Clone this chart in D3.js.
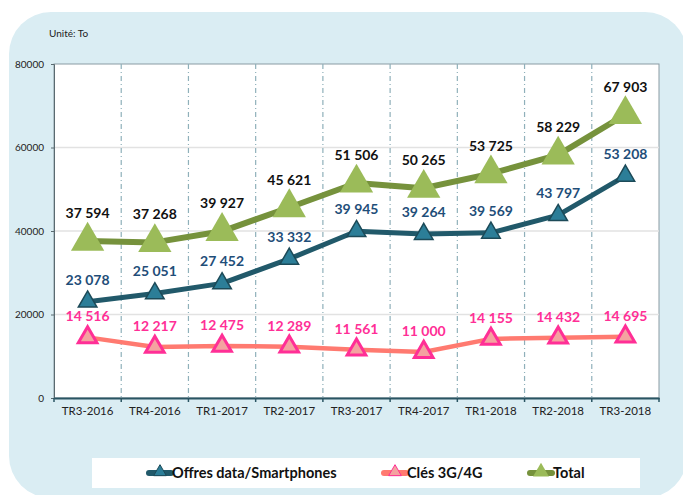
<!DOCTYPE html>
<html lang="fr">
<head>
<meta charset="UTF-8">
<title>Trafic data</title>
<style>
  body { margin: 0; background: #fff; }
  svg text { font-family: Lato, "Open Sans", sans-serif; }
</style>
</head>
<body>
<div id="chart"></div>
<script src="https://d3js.org/d3.v7.min.js"></script>
<script>
const categories = ["TR3-2016", "TR4-2016", "TR1-2017", "TR2-2017", "TR3-2017", "TR4-2017", "TR1-2018", "TR2-2018", "TR3-2018"];
const offres = [23078, 25051, 27452, 33332, 39945, 39264, 39569, 43797, 53208];
const cles = [14516, 12217, 12475, 12289, 11561, 11000, 14155, 14432, 14695];
const total = [37594, 37268, 39927, 45621, 51506, 50265, 53725, 58229, 67903];
const yTicks = [0, 20000, 40000, 60000, 80000];

const W = 683, H = 495;
const margin = { left: 54, right: 24, top: 64, bottom: 97 };

const svg = d3.select("#chart").append("svg").attr("width", W).attr("height", H);

// background panel
svg.append("rect").attr("x", 9).attr("y", 12).attr("width", 678).attr("height", 486)
  .attr("rx", 42).attr("fill", "#daedf3");

const x = d3.scaleBand().domain(categories).range([margin.left, W - margin.right]);
const y = d3.scaleLinear().domain([0, 80000]).range([H - margin.bottom, margin.top]);

svg.append("rect").attr("x", x.range()[0]).attr("y", y(80000))
  .attr("width", x.range()[1] - x.range()[0]).attr("height", y(0) - y(80000))
  .attr("fill", "#fff").attr("stroke", "#8a9ba3").attr("stroke-width", 1);

// horizontal grid
svg.append("g").selectAll("line").data(yTicks.slice(1, 4)).join("line")
  .attr("x1", x.range()[0]).attr("x2", x.range()[1])
  .attr("y1", d => y(d)).attr("y2", d => y(d))
  .attr("stroke", "#e2e2e2").attr("stroke-width", 1.5);

// vertical dashed separators
svg.append("g").selectAll("line").data(categories.slice(1)).join("line")
  .attr("x1", d => x(d)).attr("x2", d => x(d))
  .attr("y1", y(80000)).attr("y2", y(0))
  .attr("stroke", "#8fb0ba").attr("stroke-width", 1.2)
  .attr("stroke-dasharray", "5,3,1,3");

// y axis
const yAxis = svg.append("g").attr("transform", `translate(${x.range()[0]},0)`)
  .call(d3.axisLeft(y).tickValues(yTicks).tickSize(3).tickFormat(d3.format("d")));
yAxis.select(".domain").attr("stroke", "#5a6a70");
yAxis.selectAll(".tick line").attr("stroke", "#5a6a70");
yAxis.selectAll("text").attr("font-size", 10).attr("fill", "#222").attr("dx", -4);

// x axis
const xAxis = svg.append("g").attr("transform", `translate(0,${y(0)})`)
  .call(d3.axisBottom(x).tickSize(0));
xAxis.select(".domain").attr("stroke", "#2a5563").attr("stroke-width", 2);
xAxis.selectAll("text").attr("font-size", 11.5).attr("fill", "#222").attr("dy", 14);
svg.append("g").selectAll("line").data(categories.concat(["end"])).join("line")
  .attr("x1", (d, i) => x.range()[0] + i * x.bandwidth())
  .attr("x2", (d, i) => x.range()[0] + i * x.bandwidth())
  .attr("y1", y(0)).attr("y2", y(0) + 4)
  .attr("stroke", "#2a5563").attr("stroke-width", 1.5);

svg.append("text").attr("x", 49).attr("y", 37).attr("font-size", 10).attr("fill", "#222").text("Unité: To");

const cx = d => x(d) + x.bandwidth() / 2;
const line = d3.line().x((d, i) => cx(categories[i])).y(d => y(d));

function tri(size) {
  return d3.symbol().type(d3.symbolTriangle).size(size)();
}

const series = [
  { name: "Clés 3G/4G", data: cles, line: "#ff7a70", fill: "#f4a3a0", stroke: "#ff2f96", sw: 3, size: 150, lw: 4.5, label: "#ff2f96", dy: -16 },
  { name: "Offres data/Smartphones", data: offres, line: "#21596a", fill: "#2c7e98", stroke: "#1c4a58", sw: 1.5, size: 150, lw: 5, label: "#1f4e79", dy: -17 },
  { name: "Total", data: total, line: "#76923c", fill: "#9bbb59", stroke: "#9bbb59", sw: 0, size: 480, lw: 6, label: "#111", dy: -23 }
];

series.forEach(s => {
  svg.append("path").datum(s.data).attr("d", line).attr("fill", "none")
    .attr("stroke", s.line).attr("stroke-width", s.lw).attr("stroke-linejoin", "round");
  svg.append("g").selectAll("path").data(s.data).join("path")
    .attr("d", tri(s.size))
    .attr("transform", (d, i) => `translate(${cx(categories[i])},${y(d)})`)
    .attr("fill", s.fill).attr("stroke", s.stroke).attr("stroke-width", s.sw);
});

const fmt = v => d3.format(",")(v).replace(",", " ");
series.forEach(s => {
  svg.append("g").selectAll("text").data(s.data).join("text")
    .attr("x", (d, i) => cx(categories[i]))
    .attr("y", d => y(d) + s.dy)
    .attr("text-anchor", "middle").attr("font-size", 14).attr("font-weight", "bold")
    .attr("fill", s.label).text(d => fmt(d));
});

// legend
svg.append("rect").attr("x", 92).attr("y", 458).attr("width", 548).attr("height", 30).attr("fill", "#fff");
const legendItems = [
  { s: series[1], x: 149 },
  { s: series[0], x: 384 },
  { s: series[2], x: 530 }
];
legendItems.forEach(it => {
  const s = it.s;
  svg.append("line").attr("x1", it.x).attr("x2", it.x + 22).attr("y1", 473).attr("y2", 473)
    .attr("stroke", s.line).attr("stroke-width", 6).attr("stroke-linecap", "round");
  svg.append("path").attr("d", tri(s.size === 480 ? 110 : 70))
    .attr("transform", `translate(${it.x + 11},472)`)
    .attr("fill", s.fill).attr("stroke", s.stroke).attr("stroke-width", s.sw ? 1 : 0);
  svg.append("text").attr("x", it.x + 23).attr("y", 478).attr("font-size", 14.5)
    .attr("font-weight", "bold").attr("fill", "#111").text(s.name);
});
</script>
</body>
</html>
